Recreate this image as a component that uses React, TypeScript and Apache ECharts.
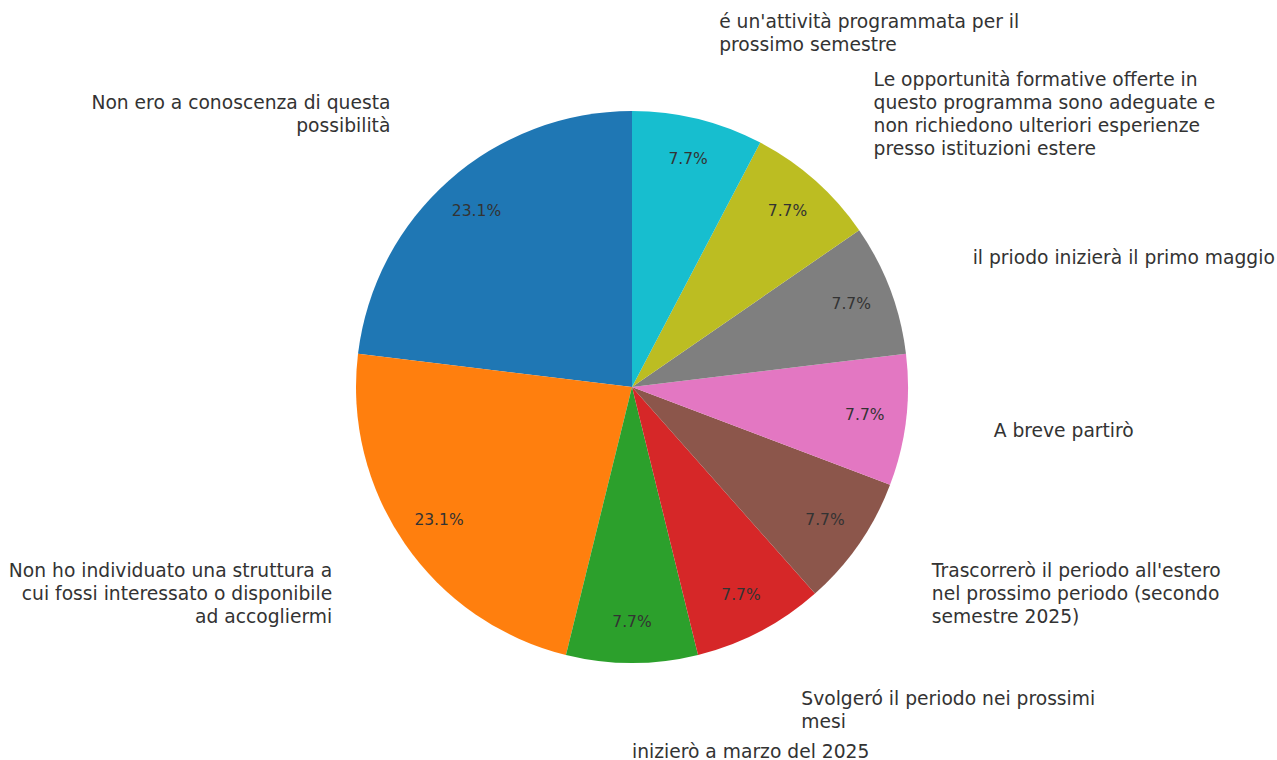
import React, { useEffect, useRef } from "react";
import * as echarts from "echarts";

const categories: string[] = [
  "Non ero a conoscenza di questa\npossibilità",
  "Non ho individuato una struttura a\ncui fossi interessato o disponibile\nad accogliermi",
  "inizierò a marzo del 2025",
  "Svolgeró il periodo nei prossimi\nmesi",
  "Trascorrerò il periodo all'estero\nnel prossimo periodo (secondo\nsemestre 2025)",
  "A breve partirò",
  "il priodo inizierà il primo maggio",
  "Le opportunità formative offerte in\nquesto programma sono adeguate e\nnon richiedono ulteriori esperienze\npresso istituzioni estere",
  "é un'attività programmata per il\nprossimo semestre",
];

const counts: number[] = [3, 3, 1, 1, 1, 1, 1, 1, 1];

const colors: string[] = [
  "#1f77b4",
  "#ff7f0e",
  "#2ca02c",
  "#d62728",
  "#8c564b",
  "#e377c2",
  "#7f7f7f",
  "#bcbd22",
  "#17becf",
];

export default function App() {
  const ref = useRef<HTMLDivElement>(null);

  useEffect(() => {
    if (!ref.current) return;
    const chart = echarts.init(ref.current, null, { renderer: "svg" });
    const total = counts.reduce((a, b) => a + b, 0);
    const R = 276;
    const center = [632, 387];
    const font = "DejaVu Sans";

    const data = categories.map((name, i) => ({
      name,
      value: counts[i],
      itemStyle: { color: colors[i] },
      label: i === 2 ? { lineHeight: 17 } : undefined,
    }));

    chart.setOption({
      animation: false,
      backgroundColor: "#ffffff",
      series: [
        {
          type: "pie",
          center,
          radius: [0, R],
          startAngle: 90,
          clockwise: false,
          avoidLabelOverlap: false,
          silent: true,
          data,
          label: {
            show: true,
            position: "outside",
            formatter: (p: any) => p.name,
            color: "#333333",
            fontFamily: font,
            fontSize: 18.7,
            lineHeight: 23,
            distanceToLabelLine: 0,
          },
          labelLine: { show: false, length: R * 0.32, length2: 0 },
          labelLayout: (p: any) => (p.dataIndex === 2 ? { align: "left" } : {}),
          emphasis: { disabled: true },
        },
        {
          type: "pie",
          center,
          radius: [187, R],
          startAngle: 90,
          clockwise: false,
          avoidLabelOverlap: false,
          silent: true,
          data: categories.map((name, i) => ({
            name,
            value: counts[i],
            itemStyle: { color: "rgba(0,0,0,0)" },
          })),
          label: {
            show: true,
            position: "inside",
            formatter: (p: any) => ((p.value / total) * 100).toFixed(1) + "%",
            color: "#333333",
            fontFamily: font,
            fontSize: 15.5,
          },
          labelLine: { show: false },
          emphasis: { disabled: true },
        },
      ],
    });

    return () => chart.dispose();
  }, []);

  return (
    <div
      ref={ref}
      style={{ position: "absolute", left: 0, top: 0, width: 1277, height: 760 }}
    />
  );
}
